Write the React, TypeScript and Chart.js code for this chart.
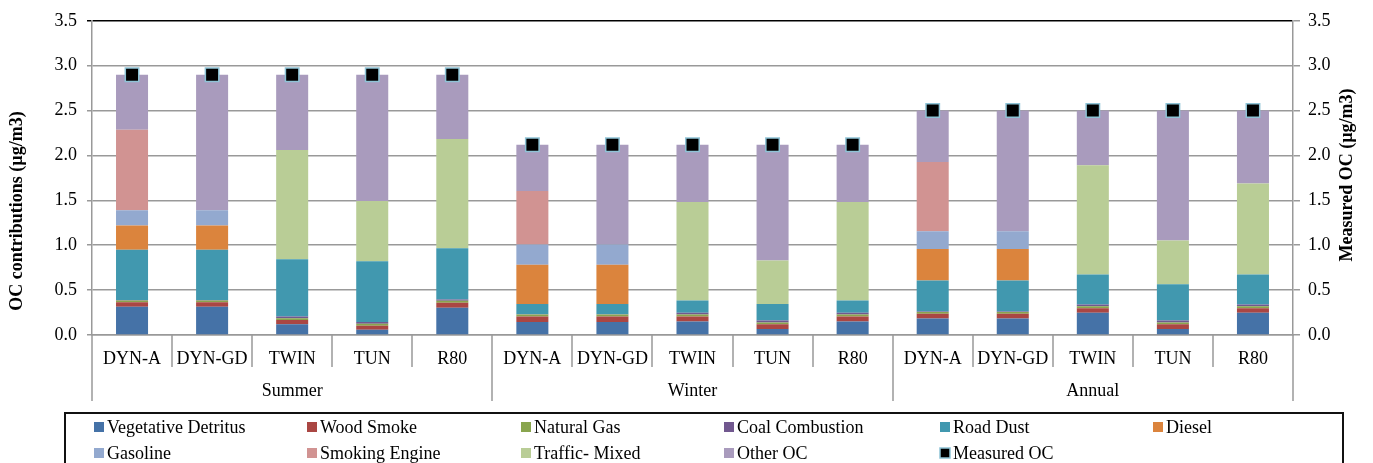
import React, { useEffect, useRef } from "react";
import { Chart, registerables } from "chart.js";

Chart.register(...registerables);

const FONT = "'Liberation Serif', 'Times New Roman', serif";

const groups = ["Summer", "Winter", "Annual"];
const sites = ["DYN-A", "DYN-GD", "TWIN", "TUN", "R80"];
const siteLabels = [...sites, ...sites, ...sites];
const yTickValues = [0, 0.5, 1, 1.5, 2, 2.5, 3, 3.5];

// Summer (5), Winter (5), Annual (5)
const vegetativeDetritus = [0.315, 0.315, 0.12, 0.058, 0.304, 0.146, 0.146, 0.15, 0.066, 0.15, 0.183, 0.183, 0.249, 0.066, 0.249];
const woodSmoke = [0.05, 0.05, 0.048, 0.044, 0.055, 0.059, 0.059, 0.055, 0.055, 0.055, 0.055, 0.055, 0.048, 0.055, 0.048];
const naturalGas = [0.02, 0.02, 0.019, 0.022, 0.022, 0.022, 0.022, 0.022, 0.018, 0.022, 0.019, 0.019, 0.022, 0.018, 0.022];
const coalCombustion = [0.005, 0.005, 0.018, 0.022, 0.015, 0.005, 0.005, 0.022, 0.022, 0.022, 0.005, 0.005, 0.022, 0.022, 0.022];
const roadDust = [0.56, 0.56, 0.64, 0.676, 0.569, 0.113, 0.113, 0.136, 0.184, 0.136, 0.344, 0.344, 0.334, 0.404, 0.334];
const diesel = [0.27, 0.27, 0, 0, 0, 0.437, 0.437, 0, 0, 0, 0.352, 0.352, 0, 0, 0];
const gasoline = [0.17, 0.17, 0, 0, 0, 0.227, 0.227, 0, 0, 0, 0.198, 0.198, 0, 0, 0];
const smokingEngine = [0.895, 0, 0, 0, 0, 0.595, 0, 0, 0, 0, 0.771, 0, 0, 0, 0];
const trafficMixed = [0, 0, 1.215, 0.672, 1.219, 0, 0, 1.097, 0.484, 1.097, 0, 0, 1.215, 0.488, 1.013];
const otherOC = [0.615, 1.51, 0.84, 1.406, 0.716, 0.516, 1.111, 0.638, 1.291, 0.638, 0.573, 1.344, 0.61, 1.447, 0.812];
const measuredOC = [2.9, 2.9, 2.9, 2.9, 2.9, 2.12, 2.12, 2.12, 2.12, 2.12, 2.5, 2.5, 2.5, 2.5, 2.5];

const seriesNames = [
  "Vegetative Detritus", "Wood Smoke", "Natural Gas", "Coal Combustion", "Road Dust",
  "Diesel", "Gasoline", "Smoking Engine", "Traffic- Mixed", "Other OC",
];
const seriesData = [
  vegetativeDetritus, woodSmoke, naturalGas, coalCombustion, roadDust,
  diesel, gasoline, smokingEngine, trafficMixed, otherOC,
];
const seriesColors = [
  "#4572A7", "#AA4643", "#89A54E", "#71588F", "#4198AF",
  "#DB843D", "#93A9CF", "#D19392", "#B9CD96", "#A99BBD",
];
const measuredName = "Measured OC";
const markerBorder = "#8EC3D6";

const GRID = "#999999";

const decorPlugin = {
  id: "decor",
  afterDraw(chart: any) {
    const { ctx, chartArea, scales } = chart;
    const x = scales.x;
    const left = chartArea.left;
    const right = chartArea.right;
    const bottom = chartArea.bottom;
    const top = chartArea.top;
    const n = siteLabels.length;
    const w = (right - left) / n;
    ctx.save();
    // separators
    ctx.strokeStyle = GRID;
    ctx.lineWidth = 1.5;
    for (let k = 0; k <= n; k++) {
      const xx = Math.round(left + k * w);
      const isGroup = k % sites.length === 0;
      ctx.beginPath();
      ctx.moveTo(xx, bottom);
      ctx.lineTo(xx, bottom + (isGroup ? 66 : 32));
      ctx.stroke();
    }
    // category labels
    ctx.fillStyle = "#000";
    ctx.font = `18px ${FONT}`;
    ctx.textAlign = "center";
    ctx.textBaseline = "middle";
    for (let i = 0; i < n; i++) {
      ctx.fillText(siteLabels[i], x.getPixelForValue(i), bottom + 24);
    }
    for (let g = 0; g < groups.length; g++) {
      const cx = left + (g * sites.length + sites.length / 2) * w;
      ctx.fillText(groups[g], cx, bottom + 56);
    }
    // axis titles
    ctx.font = `bold 18px ${FONT}`;
    const midY = (top + bottom) / 2;
    ctx.save();
    ctx.translate(17, 211);
    ctx.rotate(-Math.PI / 2);
    ctx.fillText("OC contributions (µg/m3)", 0, 0);
    ctx.restore();
    ctx.save();
    ctx.translate(1347, midY - 3);
    ctx.rotate(-Math.PI / 2);
    ctx.fillText("Measured OC (µg/m3)", 0, 0);
    ctx.restore();
    // legend box
    ctx.strokeStyle = "#111";
    ctx.lineWidth = 2;
    ctx.strokeRect(65, 413, 1278, 70);
    const cols = [94, 307, 521, 724, 940, 1153];
    const rows = [427, 453];
    const items = seriesNames.map((nm, i) => ({ nm, color: seriesColors[i], measured: false }));
    items.push({ nm: measuredName, color: "#000", measured: true });
    ctx.font = `18px ${FONT}`;
    ctx.textAlign = "left";
    items.forEach((it, i) => {
      const cx = cols[i % 6];
      const cy = rows[Math.floor(i / 6)];
      ctx.fillStyle = it.color;
      ctx.fillRect(cx, cy - 5, 10, 10);
      if (it.measured) {
        ctx.strokeStyle = markerBorder;
        ctx.lineWidth = 1.5;
        ctx.strokeRect(cx, cy - 5, 10, 10);
      }
      ctx.fillStyle = "#000";
      ctx.fillText(it.nm, cx + 13, cy + 1);
    });
    ctx.restore();
  },
};

export default function App() {
  const canvasRef = useRef<HTMLCanvasElement | null>(null);

  useEffect(() => {
    if (!canvasRef.current) return;
    Chart.defaults.font.family = FONT;
    const barSets = seriesNames.map((nm, i) => ({
      type: "bar" as const,
      label: nm,
      data: seriesData[i],
      backgroundColor: seriesColors[i],
      borderWidth: 0,
      yAxisID: "y",
      stack: "oc",
      order: 2,
      barPercentage: 0.4,
      categoryPercentage: 1,
    }));
    const measuredSet = {
      type: "line" as const,
      label: measuredName,
      data: measuredOC,
      showLine: false,
      pointStyle: "rect",
      pointRadius: 9.5,
      pointHoverRadius: 9.5,
      pointBackgroundColor: "#000",
      pointBorderColor: markerBorder,
      pointBorderWidth: 1.5,
      yAxisID: "y2",
      order: 0,
    };
    const chart = new Chart(canvasRef.current, {
      type: "bar",
      data: { labels: siteLabels.map((s, i) => `${i}-${s}`), datasets: [...barSets, measuredSet] as any },
      options: {
        animation: false,
        responsive: true,
        maintainAspectRatio: false,
        layout: { padding: { top: 17, left: 0, right: 0, bottom: 0 } },
        plugins: { legend: { display: false }, tooltip: { enabled: false } },
        scales: {
          x: {
            stacked: true,
            offset: true,
            ticks: { display: false },
            grid: { display: false },
            border: { display: true, color: GRID, width: 1.5 },
            afterFit: (s: any) => { s.height = 128; },
          },
          y: {
            position: "left",
            stacked: true,
            min: 0,
            max: 3.5,
            afterBuildTicks: (s: any) => { s.ticks = yTickValues.map((v) => ({ value: v })); },
            ticks: {
              padding: 10,
              color: "#000",
              font: { size: 18, family: FONT },
              callback: (v: any) => Number(v).toFixed(1),
            },
            grid: {
              color: (c: any) => (c.tick && c.tick.value === 3.5 ? "#000" : GRID),
              lineWidth: 1.5,
              tickLength: 5,
            },
            border: { color: GRID, width: 1.5 },
            afterFit: (s: any) => { s.width = 92; },
          },
          y2: {
            position: "right",
            stacked: false,
            min: 0,
            max: 3.5,
            afterBuildTicks: (s: any) => { s.ticks = yTickValues.map((v) => ({ value: v })); },
            ticks: {
              padding: 8,
              color: "#000",
              font: { size: 18, family: FONT },
              callback: (v: any) => Number(v).toFixed(1),
            },
            grid: { drawOnChartArea: false, color: GRID, lineWidth: 1.5, tickLength: 7 },
            border: { color: GRID, width: 1.5 },
            afterFit: (s: any) => { s.width = 80; },
          },
        },
      } as any,
      plugins: [decorPlugin],
    });
    return () => chart.destroy();
  }, []);

  return (
    <div style={{ position: "absolute", left: 0, top: 0, width: 1373, height: 463, background: "#fff" }}>
      <canvas ref={canvasRef} />
    </div>
  );
}
